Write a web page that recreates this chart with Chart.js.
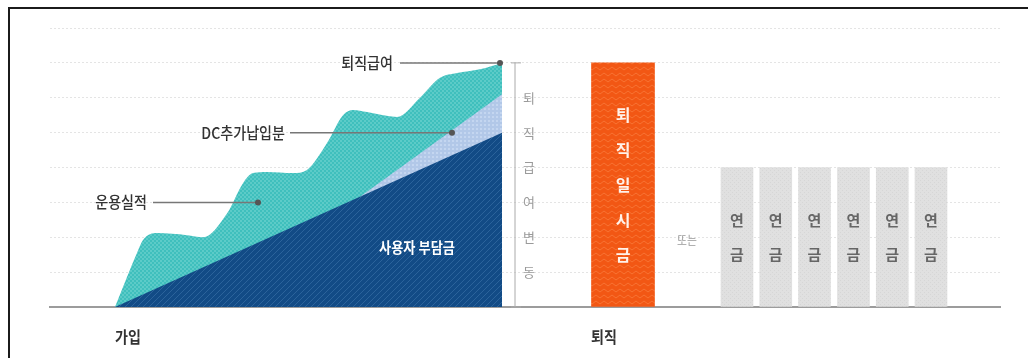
<!DOCTYPE html>
<html lang="ko">
<head>
<meta charset="utf-8">
<script src="https://cdn.jsdelivr.net/npm/chart.js@4/dist/chart.umd.min.js"></script>
<style>
    html, body { margin: 0; padding: 0; background: #fff; }
    #wrap { position: relative; width: 1028px; height: 358px; }
    #frame {
        position: absolute; left: 8px; top: 7px; right: 0; bottom: 0;
        border-top: 2px solid #1b1b1b; border-left: 2px solid #1b1b1b;
        pointer-events: none;
    }
</style>
</head>
<body>
<div id="wrap">
    <canvas id="chart" width="1028" height="358"></canvas>
    <div id="frame"></div>
</div>
<script>
// 적립 구간 (x: 가입 후 경과, y: 적립 금액)
const employerX = [2.6, 18.08];           // 사용자 부담금
const employerY = [0, 5];
const dcX = [12.4, 18.08];                // DC추가납입분
const dcY = [3.16, 6.1];
const returnX = [2.6, 3.08, 3.48, 3.72, 4.28, 5.48, 6.12, 7.08, 7.72, 8.12, 8.68, 9.72,
    10.28, 11.08, 11.72, 12.12, 12.68, 13.88, 14.8, 15.6, 16.28, 17.2, 18.08];   // 운용실적
const returnY = [0, 0.86, 1.55, 1.92, 2.12, 2.06, 2.0, 2.68, 3.55, 3.84, 3.87, 3.84,
    3.93, 4.7, 5.5, 5.65, 5.59, 5.45, 6.0, 6.57, 6.71, 6.82, 7.0];

// 수령 구간
const lumpX = [22.92];                    // 퇴직일시금
const lumpY = [7];
const pensionX = [27.48, 29.03, 30.58, 32.14, 33.69, 35.24];   // 연금
const pensionY = [4, 4, 4, 4, 4, 4];

// 세로 글자
const lumpChars = ["퇴", "직", "일", "시", "금"];
const pensionChars = ["연", "금"];
const changeChars = ["퇴", "직", "급", "여", "변", "동"];

const KR = '"Noto Sans CJK KR", "Noto Sans", sans-serif';

const canvas = document.getElementById("chart");
const ctx = canvas.getContext("2d");

function makePattern(w, h, draw) {
    let c = document.createElement("canvas");
    c.width = w;
    c.height = h;
    draw(c.getContext("2d"));
    return ctx.createPattern(c, "repeat");
}

// 채우기 무늬
const navyFill = makePattern(6, 6, function (g) {
    g.fillStyle = "#124b86";
    g.fillRect(0, 0, 6, 6);
    g.strokeStyle = "rgba(120,170,220,0.25)";
    g.lineWidth = 1;
    g.beginPath();
    g.moveTo(0, 6); g.lineTo(6, 0);
    g.moveTo(-1, 1); g.lineTo(1, -1);
    g.moveTo(5, 7); g.lineTo(7, 5);
    g.stroke();
});
const tealFill = makePattern(4, 4, function (g) {
    g.fillStyle = "#3fbfbd";
    g.fillRect(0, 0, 4, 4);
    g.fillStyle = "#5ccbc8";
    g.fillRect(0, 0, 2, 2);
    g.fillRect(2, 2, 2, 2);
});
const dcFill = makePattern(4, 4, function (g) {
    g.fillStyle = "#b2c8e8";
    g.fillRect(0, 0, 4, 4);
    g.fillStyle = "#c4d6f0";
    g.fillRect(0, 0, 2, 2);
});
const orangeFill = makePattern(8, 6, function (g) {
    g.fillStyle = "#f25714";
    g.fillRect(0, 0, 8, 6);
    g.strokeStyle = "rgba(255,150,90,0.45)";
    g.lineWidth = 1;
    g.beginPath();
    g.moveTo(0, 4); g.lineTo(4, 1); g.lineTo(8, 4);
    g.stroke();
});
const grayFill = makePattern(4, 4, function (g) {
    g.fillStyle = "#e0e0e0";
    g.fillRect(0, 0, 4, 4);
    g.fillStyle = "#d6d6d6";
    g.fillRect(0, 0, 1, 1);
    g.fillRect(2, 2, 1, 1);
});

function points(xs, ys) {
    return xs.map(function (x, i) { return { x: x, y: ys[i] }; });
}

// 가로로 살짝 좁힌 글자
function drawText(c, text, x, y, font, color, align, sx) {
    c.save();
    c.font = font;
    c.fillStyle = color;
    c.textAlign = align || "center";
    c.textBaseline = "middle";
    c.translate(x, y);
    c.scale(sx || 1, 1);
    c.fillText(text, 0, 0);
    c.restore();
}

function drawDot(c, x, y) {
    c.beginPath();
    c.arc(x, y, 3, 0, Math.PI * 2);
    c.fillStyle = "#555";
    c.fill();
}

const labelPlugin = {
    id: "labels",
    afterDatasetsDraw(chart) {
        const c = chart.ctx;
        const xs = chart.scales.x;
        const ys = chart.scales.y;
        const px = function (v) { return xs.getPixelForValue(v); };
        const py = function (v) { return ys.getPixelForValue(v); };

        // 지시선 라벨
        const callouts = [
            { text: "퇴직급여", textX: 13.72, from: 14.0, to: 18.0, y: 7 },
            { text: "DC추가납입분", textX: 9.4, from: 9.6, to: 16.08, y: 5 },
            { text: "운용실적", textX: 3.88, from: 4.12, to: 8.32, y: 3 }
        ];
        callouts.forEach(function (o) {
            drawText(c, o.text, px(o.textX), py(o.y), "500 16px " + KR, "#333", "right", 0.88);
            c.save();
            c.strokeStyle = "#777";
            c.lineWidth = 1.5;
            c.beginPath();
            c.moveTo(px(o.from), py(o.y));
            c.lineTo(px(o.to), py(o.y));
            c.stroke();
            c.restore();
            drawDot(c, px(o.to), py(o.y));
        });

        drawText(c, "사용자 부담금", px(14.68), py(1.7), "bold 15px " + KR, "#fff", "center", 0.88);

        // 퇴직급여 변동 축
        const axX = px(18.6);
        c.save();
        c.strokeStyle = "#aaa";
        c.lineWidth = 1;
        c.beginPath();
        c.moveTo(axX, py(7));
        c.lineTo(axX, py(0));
        c.moveTo(axX - 4, py(7));
        c.lineTo(axX + 6, py(7));
        c.moveTo(axX - 4, py(0));
        c.lineTo(axX + 6, py(0));
        c.stroke();
        c.restore();
        changeChars.forEach(function (ch, i) {
            drawText(c, ch, px(19.16), py(6 - i), "13px " + KR, "#9a9a9a", "center");
        });

        // 막대 안 세로 글자
        const lumpBar = chart.getDatasetMeta(3).data[0];
        lumpChars.forEach(function (ch, i) {
            drawText(c, ch, lumpBar.x, py(5.5 - i), "bold 16px " + KR, "#fff2ea", "center");
        });
        chart.getDatasetMeta(4).data.forEach(function (bar) {
            pensionChars.forEach(function (ch, i) {
                drawText(c, ch, bar.x, py(2.5 - i), "bold 15px " + KR, "#666", "center");
            });
        });

        drawText(c, "또는", px(25.48), py(1.9), "12px " + KR, "#999", "center", 0.9);

        // 아래 라벨
        const bottom = chart.chartArea.bottom + 30;
        drawText(c, "가입", px(3.12), bottom, "bold 16px " + KR, "#333", "center", 0.88);
        drawText(c, "퇴직", px(22.16), bottom, "bold 16px " + KR, "#333", "center", 0.88);
    }
};

new Chart(canvas, {
    data: {
        datasets: [
            {
                type: "line",
                label: "사용자 부담금",
                data: points(employerX, employerY),
                backgroundColor: navyFill,
                borderWidth: 0,
                pointRadius: 0,
                fill: "origin",
                order: 1
            },
            {
                type: "line",
                label: "DC추가납입분",
                data: points(dcX, dcY),
                backgroundColor: dcFill,
                borderWidth: 0,
                pointRadius: 0,
                fill: "origin",
                order: 2
            },
            {
                type: "line",
                label: "운용실적",
                data: points(returnX, returnY),
                backgroundColor: tealFill,
                borderWidth: 0,
                pointRadius: 0,
                cubicInterpolationMode: "monotone",
                fill: "origin",
                order: 3
            },
            {
                type: "bar",
                label: "퇴직일시금",
                data: points(lumpX, lumpY),
                backgroundColor: orangeFill,
                barThickness: 63,
                grouped: false,
                borderWidth: 0,
                order: 4
            },
            {
                type: "bar",
                label: "연금",
                data: points(pensionX, pensionY),
                backgroundColor: grayFill,
                barThickness: 32,
                grouped: false,
                borderWidth: 0,
                order: 5
            }
        ]
    },
    options: {
        responsive: false,
        animation: false,
        layout: {
            padding: { left: 50, right: 28, top: 28, bottom: 51 }
        },
        plugins: {
            legend: { display: false },
            tooltip: { enabled: false }
        },
        scales: {
            x: {
                type: "linear",
                min: 0,
                max: 38,
                offset: false,
                grid: { display: false, drawTicks: false, offset: false },
                ticks: { display: false },
                border: { display: true, color: "#9c9c9c", width: 2 },
                afterFit: function (s) { s.height = 0; }
            },
            y: {
                type: "linear",
                min: 0,
                max: 8,
                grid: { color: "#e4e4e4", lineWidth: 1, drawTicks: false },
                ticks: { display: false, stepSize: 1 },
                border: { display: false, dash: [2, 2] },
                afterFit: function (s) { s.width = 0; }
            }
        }
    },
    plugins: [labelPlugin]
});
</script>
</body>
</html>
